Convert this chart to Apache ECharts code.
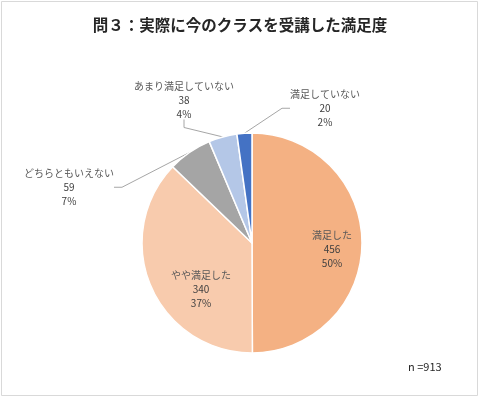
<!DOCTYPE html>
<html>
<head>
<meta charset="utf-8">
<script src="https://cdn.jsdelivr.net/npm/echarts@6/dist/echarts.min.js"></script>
<style>
  html, body { margin: 0; padding: 0; background: #fff; }
  #main { width: 480px; height: 399px; }
</style>
</head>
<body>
<div id="main"></div>
<script type="text/javascript">
  // 回答カテゴリと人数
  var categories = ['満足した', 'やや満足した', 'どちらともいえない', 'あまり満足していない', '満足していない'];
  var counts = [456, 340, 59, 38, 20];
  var colors = ['#F4B183', '#F8CBAD', '#A5A5A5', '#B4C7E7', '#4472C4'];
  // ラベルの置き場所（テキスト中心）
  var labelPos = [[332, 249], [201, 289], [69, 187], [184, 100], [325, 108]];

  var chart = echarts.init(document.getElementById('main'));
  var font = '"Noto Sans CJK JP", "Noto Sans", sans-serif';

  var option = {
    backgroundColor: '#fff',
    title: {
      text: '問３：実際に今のクラスを受講した満足度',
      left: 'center',
      top: 12,
      textStyle: { color: '#262626', fontSize: 15.5, fontWeight: 'bold', fontFamily: font }
    },
    graphic: [
      {
        type: 'rect',
        shape: { x: 1.5, y: 1.5, width: 476, height: 394 },
        style: { fill: 'none', stroke: '#D9D9D9', lineWidth: 1 }
      },
      {
        type: 'text',
        left: 408,
        top: 361,
        style: { text: 'n =913', fill: '#262626', font: '11px ' + font }
      }
    ],
    series: [
      {
        type: 'pie',
        center: [252, 243],
        radius: 110,
        startAngle: 90,
        clockwise: true,
        percentPrecision: 0,
        animation: false,
        itemStyle: { borderColor: '#fff', borderWidth: 1.5 },
        label: {
          show: true,
          position: 'outside',
          formatter: '{n|{b}}\n{v|{c}}\n{v|{d}%}',
          align: 'center',
          rich: {
            n: { color: '#595959', fontSize: 10, lineHeight: 15, fontFamily: font },
            v: { color: '#404040', fontSize: 10, lineHeight: 14, fontFamily: font }
          }
        },
        labelLine: {
          show: true,
          length: 10,
          length2: 8,
          lineStyle: { color: '#A6A6A6', width: 1 }
        },
        labelLayout: function (params) {
          var p = labelPos[params.dataIndex];
          return { x: p[0], y: p[1], align: 'center', verticalAlign: 'middle' };
        },
        data: categories.map(function (name, i) {
          var item = { name: name, value: counts[i], itemStyle: { color: colors[i] } };
          if (i < 2) item.labelLine = { show: false };
          return item;
        })
      }
    ]
  };
  chart.setOption(option);
</script>
</body>
</html>
